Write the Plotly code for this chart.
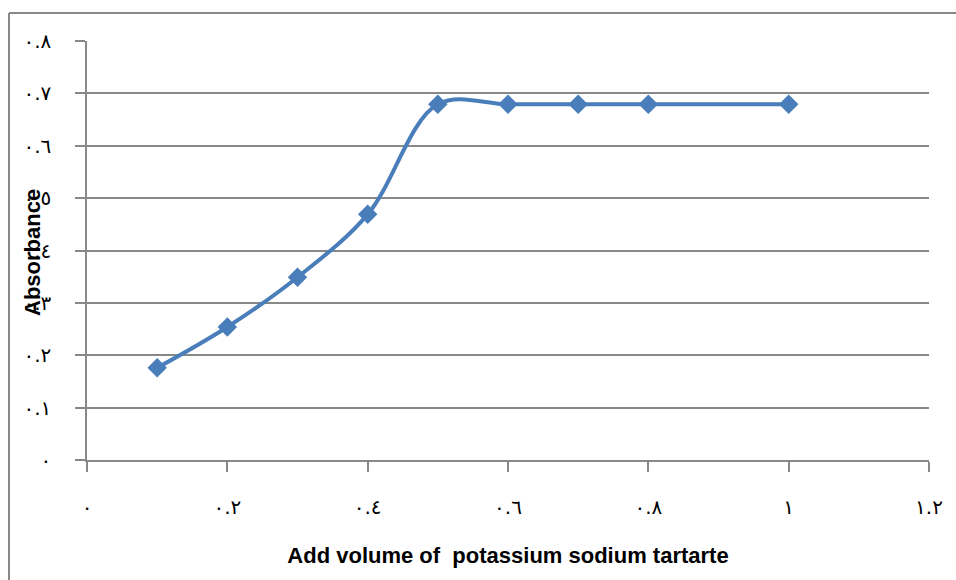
import plotly.graph_objects as go

x_vals = [0.1, 0.2, 0.3, 0.4, 0.5, 0.6, 0.7, 0.8, 1.0]
y_vals = [0.176, 0.254, 0.349, 0.469, 0.679, 0.679, 0.679, 0.679, 0.679]

x_tickvals = [0, 0.2, 0.4, 0.6, 0.8, 1.0, 1.2]
x_ticktext = ["٠", "٠.٢", "٠.٤", "٠.٦", "٠.٨", "١", "١.٢"]
y_tickvals = [0, 0.1, 0.2, 0.3, 0.4, 0.5, 0.6, 0.7, 0.8]
y_ticktext = ["٠", "٠.١", "٠.٢", "٠.٣", "٠.٤", "٠.٥", "٠.٦", "٠.٧", "٠.٨"]

x_title = "Add volume of  potassium sodium tartarte"
y_title = "Absorbance"

color = "#4A7EBB"
grid = "#888888"

fig = go.Figure()
fig.add_trace(go.Scatter(
    x=x_vals, y=y_vals, mode="lines+markers",
    line=dict(color=color, width=4, shape="spline", smoothing=1.0),
    marker=dict(symbol="diamond", size=15, color=color),
    showlegend=False,
))

W, H = 956, 580
L, R, T, B = 87, 27, 41, 120
pw, ph = W - L - R, H - T - B
bx = (9 - L) / pw
by = (H - B - 13) / ph

fig.update_layout(
    width=W, height=H,
    margin=dict(l=L, r=R, t=T, b=B, autoexpand=False),
    paper_bgcolor="white", plot_bgcolor="white",
    font=dict(family="DejaVu Sans", size=20, color="black"),
    xaxis=dict(
        range=[0, 1.2], tickvals=x_tickvals, ticktext=x_ticktext,
        showgrid=False, zeroline=False, showline=True, linecolor=grid, linewidth=1.5,
        ticks="outside", ticklen=10, tickcolor=grid, tickwidth=1.5,
        ticklabelstandoff=18, automargin=False,
        title=dict(text="<b>" + x_title + "</b>", standoff=30,
                   font=dict(family="Liberation Sans", size=22)),
    ),
    yaxis=dict(
        range=[0, 0.8], tickvals=y_tickvals, ticktext=y_ticktext,
        showgrid=True, gridcolor=grid, gridwidth=1.5,
        zeroline=False, showline=True, linecolor=grid, linewidth=1.5,
        ticks="outside", ticklen=10, tickcolor=grid, tickwidth=1.5,
        ticklabelstandoff=20, automargin=False,
    ),
    annotations=[
        dict(text="<b>" + y_title + "</b>", xref="paper", yref="paper",
             x=(32 - L) / pw, y=(H - B - 253) / ph, xanchor="center", yanchor="middle",
             textangle=-90, showarrow=False,
             font=dict(family="Liberation Sans", size=22, color="black")),
    ],
    shapes=[
        dict(type="line", xref="paper", yref="paper", x0=bx, x1=bx, y0=-0.3, y1=by,
             line=dict(color=grid, width=2)),
        dict(type="line", xref="paper", yref="paper", x0=bx, x1=1.05, y0=by, y1=by,
             line=dict(color=grid, width=2)),
    ],
)

fig.write_html("out.html", config={"displayModeBar": False},
               post_script="document.body.style.margin='0';")
